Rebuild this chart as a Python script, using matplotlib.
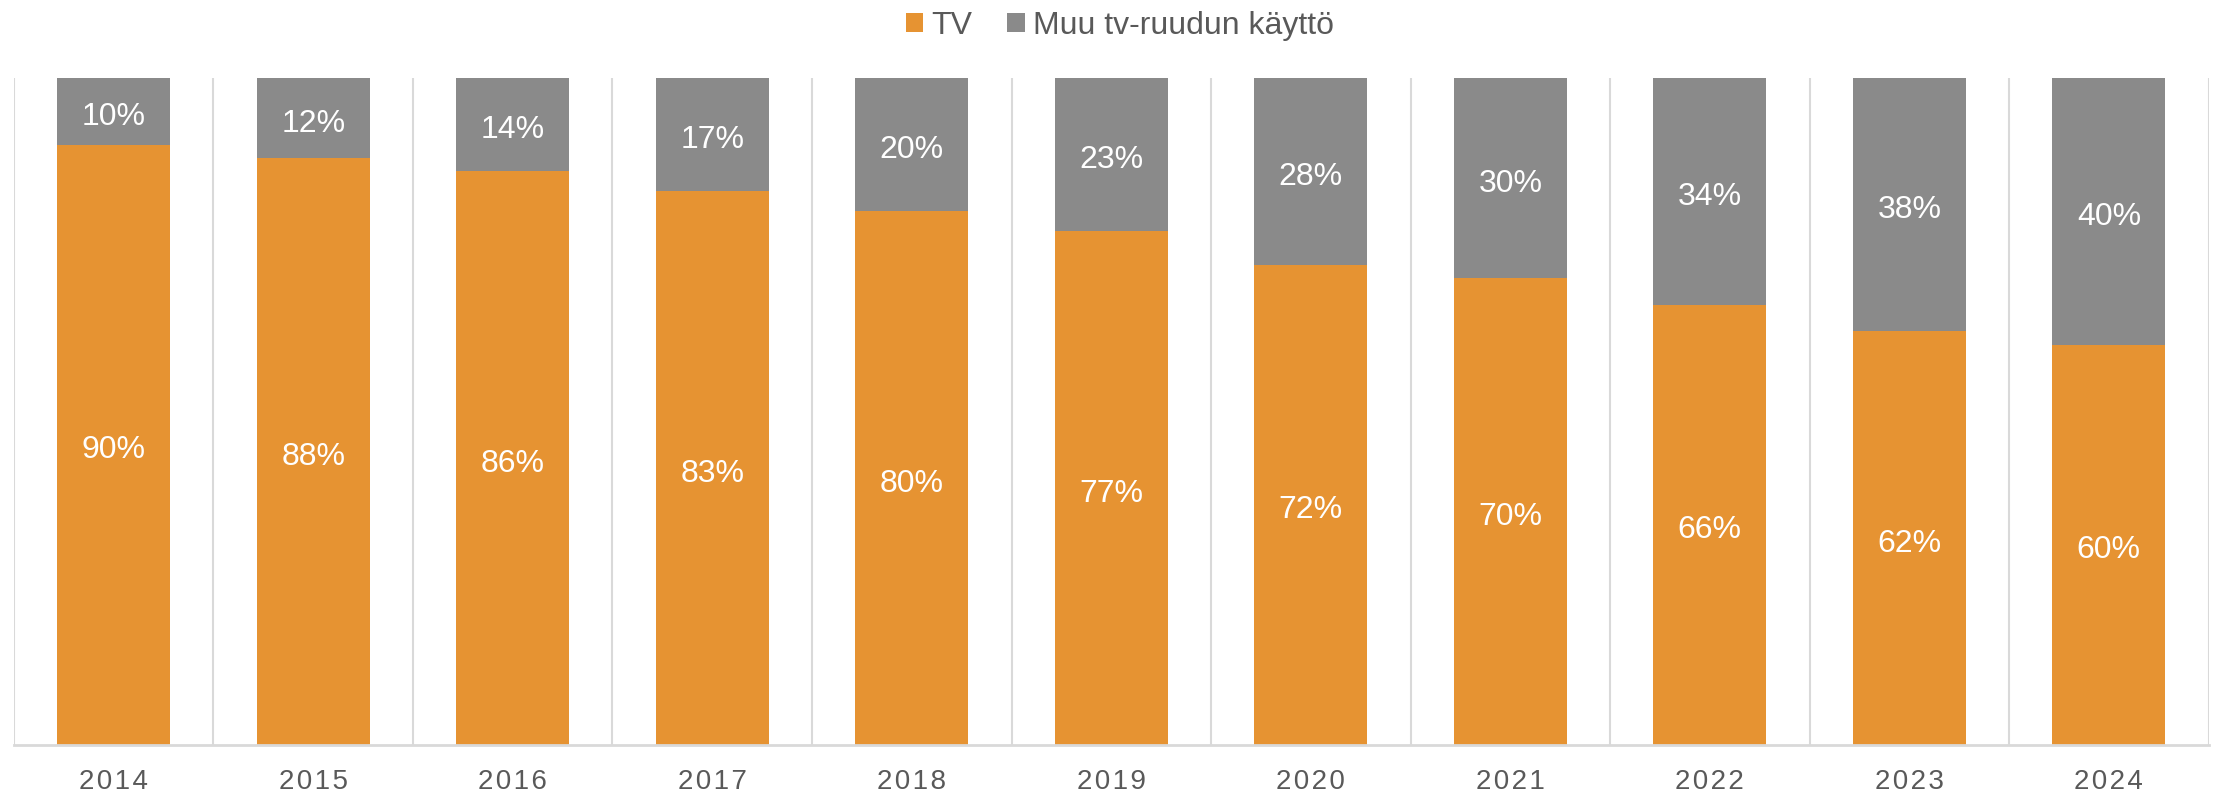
import matplotlib.pyplot as plt
import numpy as np

years = ['2014', '2015', '2016', '2017', '2018', '2019', '2020', '2021', '2022', '2023', '2024']
tv = [90, 88, 86, 83, 80, 77, 72, 70, 66, 62, 60]
muu = [10, 12, 14, 17, 20, 23, 28, 30, 34, 38, 40]

orange = '#E69332'
grey = '#8A8A8A'
gridc = '#D9D9D9'

plt.rcParams['font.family'] = ['Liberation Sans', 'DejaVu Sans']

fig = plt.figure(figsize=(22.13, 7.93), dpi=100)
ax = fig.add_axes([0.0063, 0.0605, 0.9917, 0.8411])

x = np.arange(len(years))
bw = 0.566
b1 = ax.bar(x, tv, bw, color=orange, label='TV')
b2 = ax.bar(x, muu, bw, bottom=tv, color=grey, label='Muu tv-ruudun käyttö')

for i in range(len(years)):
    ax.annotate(f'{tv[i]}%', (x[i], tv[i] / 2), xytext=(0, -4), textcoords='offset points',
                ha='center', va='center', color='white', fontsize=23)
    ax.annotate(f'{muu[i]}%', (x[i], tv[i] + muu[i] / 2), xytext=(0, -4), textcoords='offset points',
                ha='center', va='center', color='white', fontsize=23)

ax.set_xlim(-0.5, len(years) - 0.5)
ax.set_ylim(0, 100)
for b in np.arange(-0.5, len(years), 1.0):
    ax.axvline(b, color=gridc, lw=1.5, zorder=0)

for s in ['top', 'right', 'left']:
    ax.spines[s].set_visible(False)
ax.spines['bottom'].set_color(gridc)
ax.spines['bottom'].set_linewidth(2)
ax.set_yticks([])
ax.set_xticks(x)
ax.set_xticklabels(['\u200a'.join(y) for y in years], fontsize=20, color='#595959')
ax.tick_params(axis='x', length=0, pad=17)

fig.legend(handles=[b1, b2], loc='center', bbox_to_anchor=(0.506, 0.967), ncol=2,
           frameon=False, fontsize=23, handlelength=0.55, handleheight=0.55,
           handletextpad=0.25, columnspacing=1.1, labelcolor='#595959')

fig.savefig('out.png', dpi=100)
